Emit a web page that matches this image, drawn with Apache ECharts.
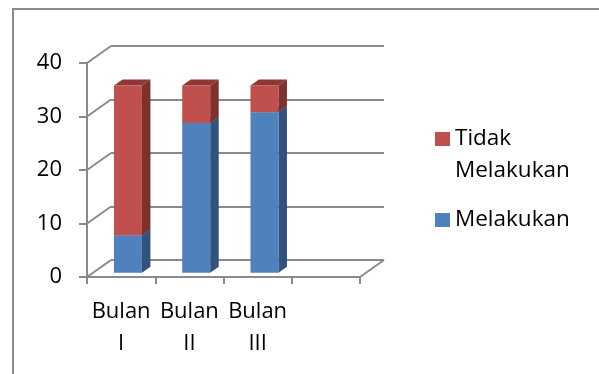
<!DOCTYPE html>
<html>
<head>
<meta charset="utf-8">
<title>Melakukan / Tidak Melakukan</title>
<script src="https://cdn.jsdelivr.net/npm/echarts@6/dist/echarts.min.js"></script>
<style>
  body { margin: 0; background: #fff; }
  #main { width: 599px; height: 374px; }
</style>
</head>
<body>
<div id="main"></div>
<script>
// data
var categories = ['Bulan\nI', 'Bulan\nII', 'Bulan\nIII', ''];
var melakukan = [7, 28, 30];
var tidakMelakukan = [28, 7, 5];
var yTicks = [0, 10, 20, 30, 40];

var LINE = '#8a8a8a';
var FONT = 'Open Sans';
// depth of the "3d" box and of each bar
var DX = 24, DY = -17;
var BAR_DX = 8.5, BAR_DY = -6;

var blueData = melakukan.map(function (v, i) { return [i, 0, v]; });
var redData = tidakMelakukan.map(function (v, i) {
    return [i, melakukan[i], melakukan[i] + v];
});

// draws one stacked segment as front face + side + top
function barItem(front, side, top) {
    return function (params, api) {
        var i = api.value(0);
        var p0 = api.coord([i, api.value(1)]);
        var p1 = api.coord([i, api.value(2)]);
        var band = api.size([1, 0])[0];
        var w = band * 0.41;
        var x0 = p0[0] - band * 0.105, x1 = x0 + w;
        var yb = p0[1] - 4.3, yt = p1[1] - 4.3;
        return {
            type: 'group',
            children: [
                { type: 'polygon', shape: { points: [[x1, yb], [x1 + BAR_DX, yb + BAR_DY], [x1 + BAR_DX, yt + BAR_DY], [x1, yt]] }, style: { fill: side } },
                { type: 'polygon', shape: { points: [[x0, yt], [x1, yt], [x1 + BAR_DX, yt + BAR_DY], [x0 + BAR_DX, yt + BAR_DY]] }, style: { fill: top } },
                { type: 'rect', shape: { x: x0, y: yt, width: w, height: yb - yt }, style: { fill: front } }
            ]
        };
    };
}

var myChart = echarts.init(document.getElementById('main'));

var option = {
    animation: false,
    textStyle: { fontFamily: FONT },
    graphic: [{
        type: 'rect', silent: true,
        shape: { x: 13, y: 9, width: 600, height: 400 },
        style: { fill: 'none', stroke: LINE, lineWidth: 2 }
    }],
    legend: [{
        data: ['Tidak Melakukan'],
        orient: 'vertical', left: 435, top: 91, padding: 0,
        icon: 'rect', itemWidth: 15, itemHeight: 14,
        selectedMode: false,
        // empty first line so the icon sits level with "Tidak"
        formatter: '\n{name}',
        textStyle: { fontFamily: FONT, fontSize: 22.5, lineHeight: 32, color: '#000', width: 130, overflow: 'break' }
    }, {
        data: ['Melakukan'],
        orient: 'vertical', left: 435, top: 204, padding: 0,
        icon: 'rect', itemWidth: 15, itemHeight: 14,
        selectedMode: false,
        textStyle: { fontFamily: FONT, fontSize: 22.5, lineHeight: 32, color: '#000' }
    }],
    grid: [
        // front plane
        { left: 87, right: 239, top: 63, bottom: 97 },
        // back wall
        { left: 87 + DX, right: 239 - DX, top: 63 + DY, bottom: 97 - DY }
    ],
    xAxis: [{
        type: 'category', gridIndex: 0, data: categories,
        axisLine: { lineStyle: { color: LINE, width: 2 } },
        axisTick: { show: true, length: 7, lineStyle: { color: LINE, width: 2 } },
        axisLabel: { interval: 0, margin: 19, fontSize: 22, lineHeight: 32, color: '#000', fontFamily: FONT },
        splitLine: { show: false }
    }, {
        type: 'category', gridIndex: 1, data: categories, show: false
    }],
    yAxis: [{
        type: 'value', gridIndex: 0, min: 0, max: 40, interval: 10,
        axisLine: { show: true, lineStyle: { color: LINE, width: 2 } },
        axisTick: { show: true, length: 8, lineStyle: { color: LINE, width: 2 } },
        axisLabel: { margin: 25, fontSize: 22, color: '#000', fontFamily: FONT },
        splitLine: { show: false }
    }, {
        type: 'value', gridIndex: 1, min: 0, max: 40, interval: 10,
        axisLine: { show: false }, axisTick: { show: false }, axisLabel: { show: false },
        splitLine: { show: true, lineStyle: { color: LINE, width: 2 } }
    }],
    series: [{
        // left wall diagonals
        type: 'custom', silent: true, xAxisIndex: 0, yAxisIndex: 0,
        data: yTicks.map(function (v) { return [0, v]; }),
        renderItem: function (params, api) {
            var cs = params.coordSys;
            var y = api.coord([0, api.value(1)])[1];
            return { type: 'line', shape: { x1: cs.x, y1: y, x2: cs.x + DX, y2: y + DY }, style: { stroke: LINE, lineWidth: 2 } };
        }
    }, {
        // right floor diagonal
        type: 'custom', silent: true, xAxisIndex: 0, yAxisIndex: 0,
        data: [[0, 0]],
        renderItem: function (params, api) {
            var cs = params.coordSys;
            var y = api.coord([0, 0])[1];
            var x = cs.x + cs.width;
            return { type: 'line', shape: { x1: x, y1: y, x2: x + DX, y2: y + DY }, style: { stroke: LINE, lineWidth: 2 } };
        }
    }, {
        name: 'Melakukan', type: 'custom', xAxisIndex: 0, yAxisIndex: 0,
        itemStyle: { color: '#4F81BD' },
        data: blueData,
        renderItem: barItem('#4F81BD', '#30527C', '#3A6496')
    }, {
        name: 'Tidak Melakukan', type: 'custom', xAxisIndex: 0, yAxisIndex: 0,
        itemStyle: { color: '#C0504D' },
        data: redData,
        renderItem: barItem('#C0504D', '#7E302E', '#8E3734')
    }]
};

myChart.setOption(option);
</script>
</body>
</html>
